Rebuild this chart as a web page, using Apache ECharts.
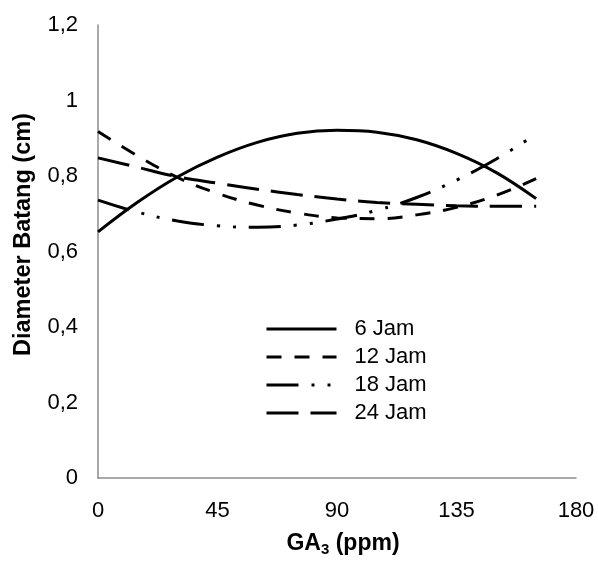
<!DOCTYPE html>
<html>
<head>
<meta charset="utf-8">
<script src="https://cdn.jsdelivr.net/npm/echarts@6/dist/echarts.min.js"></script>
<style>html,body{margin:0;padding:0;background:#fff}#c{width:598px;height:562px}</style>
</head>
<body>
<div id="c"></div>
<script>
var xValues = [0, 15, 30, 45, 60, 75, 90, 105, 120, 135, 150, 165];
var jam6  = [0.652, 0.731, 0.798, 0.850, 0.889, 0.913, 0.921, 0.916, 0.896, 0.860, 0.809, 0.740];
var jam12 = [0.918, 0.853, 0.796, 0.754, 0.723, 0.702, 0.689, 0.687, 0.697, 0.717, 0.749, 0.793];
var jam18 = [0.736, 0.704, 0.681, 0.668, 0.664, 0.670, 0.686, 0.709, 0.743, 0.789, 0.845, 0.911];
var jam24 = [0.848, 0.823, 0.798, 0.781, 0.765, 0.751, 0.739, 0.730, 0.725, 0.721, 0.720, 0.720];
var seriesNames = ['6 Jam', '12 Jam', '18 Jam', '24 Jam'];
var xTicks = [0, 45, 90, 135, 180];
var yTicks = [0, 0.2, 0.4, 0.6, 0.8, 1, 1.2];

function pairs(ys) { return xValues.map(function (x, i) { return [x, ys[i]]; }); }
var styles = [
  { type: 'solid' },
  { type: [15, 13] },
  { type: [32, 13, 3, 13, 3, 13] },
  { type: [32, 12] }
];
var dataSets = [jam6, jam12, jam18, jam24];
var FONT = 'Liberation Sans, Arial, sans-serif';

var chart = echarts.init(document.getElementById('c'), null, { renderer: 'canvas' });
chart.setOption({
  animation: false,
  backgroundColor: '#fff',
  grid: { left: 98, right: 22, top: 25, bottom: 77, containLabel: false },
  legend: {
    left: 260, top: 313, orient: 'vertical',
    itemWidth: 70, itemHeight: 14, itemGap: 6,
    itemStyle: { color: 'transparent', borderColor: 'transparent', borderWidth: 0, opacity: 0 },
    lineStyle: { width: 3 },
    data: seriesNames.map(function (n) { return { name: n }; }),
    textStyle: { fontFamily: FONT, fontSize: 22, color: '#000', padding: [0, 0, 0, 13] }
  },
  xAxis: {
    type: 'value', min: 0, max: 180, interval: 45,
    name: 'GA{sub|3} (ppm)', nameLocation: 'middle', nameGap: 52,
    nameTextStyle: { fontFamily: FONT, fontSize: 23, fontWeight: 'bold', color: '#000', padding: [0, 0, 0, 12],
      rich: { sub: { fontFamily: FONT, fontSize: 15, fontWeight: 'bold', color: '#000', verticalAlign: 'bottom', padding: [12, 0, 0, 0] } } },
    axisLine: { show: true, lineStyle: { color: '#8c8c8c', width: 1.5 } },
    axisTick: { show: false },
    splitLine: { show: false },
    axisLabel: { fontFamily: FONT, fontSize: 22, color: '#000', margin: 22,
      formatter: function (v) { return xTicks.indexOf(v) >= 0 ? String(v) : ''; } }
  },
  yAxis: {
    type: 'value', min: 0, max: 1.2, interval: 0.2,
    name: 'Diameter Batang (cm)', nameLocation: 'middle', nameGap: 62, nameRotate: 90,
    nameTextStyle: { fontFamily: FONT, fontSize: 23.5, fontWeight: 'bold', color: '#000', padding: [0, 0, 0, 34] },
    axisLine: { show: true, lineStyle: { color: '#8c8c8c', width: 1.5 } },
    axisTick: { show: false },
    splitLine: { show: false },
    axisLabel: { fontFamily: FONT, fontSize: 22, color: '#000', margin: 20,
      formatter: function (v) {
        var t = yTicks.filter(function (k) { return Math.abs(k - v) < 1e-9; });
        return t.length ? String(t[0]).replace('.', ',') : '';
      } }
  },
  series: dataSets.map(function (d, i) {
    return {
      name: seriesNames[i], type: 'line', data: pairs(d), smooth: 0.4,
      symbol: 'none', showSymbol: false,
      lineStyle: { color: '#000', width: 3, type: styles[i].type, cap: 'butt' },
      itemStyle: { color: '#000' }
    };
  })
});
</script>
</body>
</html>
